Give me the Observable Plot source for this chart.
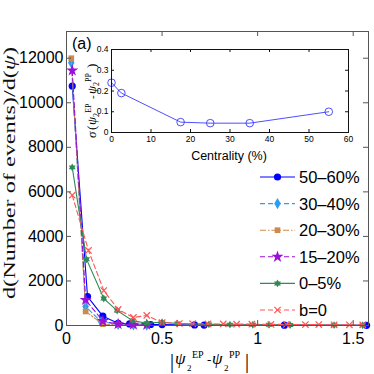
<!DOCTYPE html>
<html><head><meta charset="utf-8">
<script src="https://cdn.jsdelivr.net/npm/d3@7"></script>
<script src="https://cdn.jsdelivr.net/npm/@observablehq/plot@0.6"></script>
<style>
body{margin:0;background:#fff}
#wrap{position:relative;width:374px;height:374px;overflow:hidden}
</style>
</head><body><div id="wrap"></div>
<script>
// ---- data ----
const seriesNames = ["50–60%", "30–40%", "20–30%", "15–20%", "0–5%", "b=0"];
const x5060 = [0.03, 0.11, 0.19, 0.27, 0.33, 0.44, 0.50, 0.67, 0.72, 1.14, 1.57];
const y5060 = [10750, 1300, 420, 100, 70, 45, 40, 25, 20, 15, 10];
const x3040 = [0.025, 0.10, 0.18, 0.27, 0.35, 0.42];
const y3040 = [11800, 850, 180, 50, 30, 20];
const x2030 = [0.025, 0.10, 0.19, 0.27, 0.35, 0.42];
const y2030 = [12000, 630, 60, 30, 20, 15];
const x1520 = [0.03, 0.10, 0.19, 0.27, 0.35, 0.42];
const y1520 = [11450, 1150, 200, 60, 40, 25];
const x05 = [0.03, 0.105, 0.195, 0.265, 0.345, 0.42, 0.50, 0.58, 0.745, 0.855, 0.975, 1.06, 1.17, 1.40, 1.55];
const y05 = [7100, 2970, 1210, 670, 220, 100, 150, 90, 50, 40, 35, 30, 20, 15, 10];
const xb0 = [0.03, 0.115, 0.195, 0.27, 0.35, 0.42, 0.50, 0.59, 0.66, 0.74, 0.82, 0.89, 0.97, 1.07, 1.15, 1.25, 1.32, 1.40, 1.48, 1.55];
const yb0 = [5850, 3370, 1570, 720, 360, 450, 130, 90, 80, 70, 70, 60, 60, 50, 50, 40, 40, 30, 30, 30];
const xTicks = [0, 0.5, 1, 1.5];
const yTicks = [0, 2000, 4000, 6000, 8000, 10000, 12000];

const centrality = [0, 2.5, 17.5, 25, 35, 55];
const sigma = [0.24, 0.19, 0.05, 0.045, 0.045, 0.1];
const insetXTicks = [0, 10, 20, 30, 40, 50, 60];
const insetYTicks = [0, 0.1, 0.2, 0.3, 0.4];

// ---- styles ----
const hexagram = {
  draw(ctx, size) {
    const r = Math.sqrt(size) * 0.62;
    for (const rot of [-Math.PI / 2, Math.PI / 2]) {
      for (let k = 0; k < 3; k++) {
        const a = rot + k * 2 * Math.PI / 3;
        const px = r * Math.cos(a), py = r * Math.sin(a);
        if (k === 0) ctx.moveTo(px, py); else ctx.lineTo(px, py);
      }
      ctx.closePath();
    }
  }
};
const styles = [
  {color: "#0000ff", dash: null, symbol: "circle", r: 3.6, filled: true},
  {color: "#2a9df4", dash: "5,3", symbol: "diamond", r: 3.4, filled: true},
  {color: "#cd8a4c", dash: "6,2,1.5,2", symbol: "square", r: 3.2, filled: true},
  {color: "#9a10d8", dash: "5,3", symbol: "star", r: 3.8, filled: true},
  {color: "#2e8b57", dash: null, symbol: hexagram, r: 3.6, filled: true},
  {color: "#ff5555", dash: "5,3", symbol: "times", r: 3.0, filled: false}
];
const xs = [x5060, x3040, x2030, x1520, x05, xb0];
const ys = [y5060, y3040, y2030, y1520, y05, yb0];
const tables = xs.map((xa, i) => xa.map((x, j) => ({x, y: ys[i][j], s: seriesNames[i]})));

const W = 374, H = 374, mL = 66, mR = 6, mT = 31, mB = 49;
const fw = W - mL - mR, fh = H - mT - mB;
const axisColor = "#555";

const seriesMarks = [];
tables.forEach((t, i) => {
  const st = styles[i];
  seriesMarks.push(Plot.line(t, {x: "x", y: "y", stroke: st.color, strokeWidth: 1.1, strokeDasharray: st.dash}));
  seriesMarks.push(Plot.dot(t, st.filled
    ? {x: "x", y: "y", symbol: st.symbol, r: st.r, fill: st.color, stroke: "none"}
    : {x: "x", y: "y", symbol: st.symbol, r: st.r, stroke: st.color, strokeWidth: 1.2, fill: "none"}));
});

const main = Plot.plot({
  width: W, height: H,
  marginLeft: mL, marginRight: mR, marginTop: mT, marginBottom: mB,
  style: {fontFamily: "'Liberation Sans', Arial, sans-serif", background: "white"},
  x: {domain: [0, 1.58]},
  y: {domain: [0, 13200]},
  marks: [
    ...seriesMarks,
    Plot.frame({stroke: axisColor}),
    Plot.tickX(xTicks, {x: d => d, insetTop: fh - 5, stroke: axisColor}),
    Plot.tickX(xTicks, {x: d => d, insetBottom: fh - 5, stroke: axisColor}),
    Plot.tickY(yTicks, {y: d => d, insetRight: fw - 5, stroke: axisColor}),
    Plot.tickY(yTicks, {y: d => d, insetLeft: fw - 5, stroke: axisColor}),
    Plot.axisX(xTicks, {anchor: "bottom", tickSize: 0, tickPadding: 7, fontSize: 16, label: null, tickFormat: d => String(d)}),
    Plot.axisY(yTicks, {anchor: "left", tickSize: 0, tickPadding: 3, fontSize: 16, label: null, tickFormat: d => String(d)})
  ]
});

// ---- inset ----
const iL = 30, iR = 10, iT = 5, iB = 32;
const ifw = 237, ifh = 83;
const iw = iL + ifw + iR, ih = iT + ifh + iB;
const inset = Plot.plot({
  width: iw, height: ih,
  marginLeft: iL, marginRight: iR, marginTop: iT, marginBottom: iB,
  style: {fontFamily: "'Liberation Sans', Arial, sans-serif", background: "none"},
  x: {domain: [0, 60]},
  y: {domain: [0, 0.4]},
  marks: [
    Plot.frame({fill: "white", stroke: "none"}),
    Plot.line(centrality.map((c, i) => ({c, s: sigma[i]})), {x: "c", y: "s", stroke: "#3a3aff", strokeWidth: 0.9}),
    Plot.dot(centrality.map((c, i) => ({c, s: sigma[i]})), {x: "c", y: "s", r: 3.8, stroke: "#3a3aff", strokeWidth: 0.9, fill: "none"}),
    Plot.frame({stroke: "#111"}),
    Plot.tickX(insetXTicks, {x: d => d, insetTop: ifh - 3, stroke: "#111"}),
    Plot.tickX(insetXTicks, {x: d => d, insetBottom: ifh - 3, stroke: "#111"}),
    Plot.tickY(insetYTicks, {y: d => d, insetRight: ifw - 3, stroke: "#111"}),
    Plot.tickY(insetYTicks, {y: d => d, insetLeft: ifw - 3, stroke: "#111"}),
    Plot.axisX(insetXTicks, {anchor: "bottom", tickSize: 0, tickPadding: 3, fontSize: 8.5, label: null, tickFormat: d => String(d)}),
    Plot.axisY(insetYTicks, {anchor: "left", tickSize: 0, tickPadding: 3, fontSize: 8.5, label: null, tickFormat: d => String(d)})
  ]
});
d3.select(inset).attr("x", 111 - iL).attr("y", 49 - iT)
  .attr("width", iw).attr("height", ih)
  .style("width", iw + "px").style("height", ih + "px").style("max-width", "none")
  .style("overflow", "visible");
main.appendChild(inset);

const svg = d3.select(main);
const serif = "'Liberation Serif', 'Times New Roman', serif";
const sans = "'Liberation Sans', Arial, sans-serif";
const ann = svg.append("g").attr("text-anchor", "start");

// "(a)"
ann.append("text").attr("x", 72).attr("y", 49).attr("font-family", sans).attr("font-size", 16).attr("fill", "#000").text("(a)");

// main y label
const yl = ann.append("text").attr("transform", "translate(15,173) rotate(-90)")
  .attr("text-anchor", "middle").attr("font-family", serif).attr("font-size", 17).attr("fill", "#111")
  .attr("textLength", 252).attr("lengthAdjust", "spacingAndGlyphs");
yl.append("tspan").text("d(Number of events)/d(");
yl.append("tspan").attr("font-style", "italic").text("ψ");
yl.append("tspan").text(")");

// main x label  |ψ2^EP - ψ2^PP|
const gx = ann.append("g");
const T = (x, y, txt, size, italic) => gx.append("text").attr("x", x).attr("y", y)
  .attr("font-family", serif).attr("font-size", size).attr("font-style", italic ? "italic" : null)
  .attr("fill", "#000").text(txt);
T(170, 368, "|", 20, false);
T(175, 364, "ψ", 17, true);
T(187, 371, "2", 9, false);
T(192, 358, "EP", 10, false);
T(207, 364, "-", 13, false);
T(212, 364, "ψ", 17, true);
T(224, 371, "2", 9, false);
T(229, 358, "PP", 10, false);
T(245, 368, "|", 20, false);

// inset y label  σ(ψ2^EP-ψ2^PP)
const gi = ann.append("g").attr("transform", "translate(96,138) rotate(-90)");
const Ti = (x, y, txt, size, italic) => gi.append("text").attr("x", x).attr("y", y)
  .attr("font-family", serif).attr("font-size", size).attr("font-style", italic ? "italic" : null)
  .attr("fill", "#000").text(txt);
Ti(0, 0, "σ", 13, true);
Ti(8, 0, "(", 13, false);
Ti(13, 0, "ψ", 13, true);
Ti(21, 3, "2", 8, false);
Ti(25, -5, "EP", 8, false);
Ti(39, 0, "-", 11, false);
Ti(44, 0, "ψ", 13, true);
Ti(52, 3, "2", 8, false);
Ti(56, -5, "PP", 8, false);
Ti(70, 0, ")", 13, false);

// inset x label
ann.append("text").attr("x", 229).attr("y", 160).attr("text-anchor", "middle")
  .attr("font-family", sans).attr("font-size", 12.5).attr("fill", "#000").text("Centrality (%)");

// legend
const lg = ann.append("g");
seriesNames.forEach((name, i) => {
  const st = styles[i];
  const y = 177 + i * 26.6;
  lg.append("line").attr("x1", 260).attr("x2", 295).attr("y1", y).attr("y2", y)
    .attr("stroke", st.color).attr("stroke-width", 1.1).attr("stroke-dasharray", st.dash);
  const symType = typeof st.symbol === "string"
    ? ({circle: d3.symbolCircle, diamond: d3.symbolDiamond, square: d3.symbolSquare, star: d3.symbolStar, times: d3.symbolTimes})[st.symbol]
    : st.symbol;
  const p = d3.symbol(symType, Math.PI * st.r * st.r)();
  lg.append("path").attr("d", p).attr("transform", `translate(277.5,${y})`)
    .attr("fill", st.filled ? st.color : "none").attr("stroke", st.filled ? "none" : st.color).attr("stroke-width", 1.2);
  lg.append("text").attr("x", 299).attr("y", y).attr("dy", "0.36em")
    .attr("font-family", sans).attr("font-size", 16.5).attr("fill", "#000").text(name);
});

document.getElementById("wrap").appendChild(main);
</script>
</body></html>
